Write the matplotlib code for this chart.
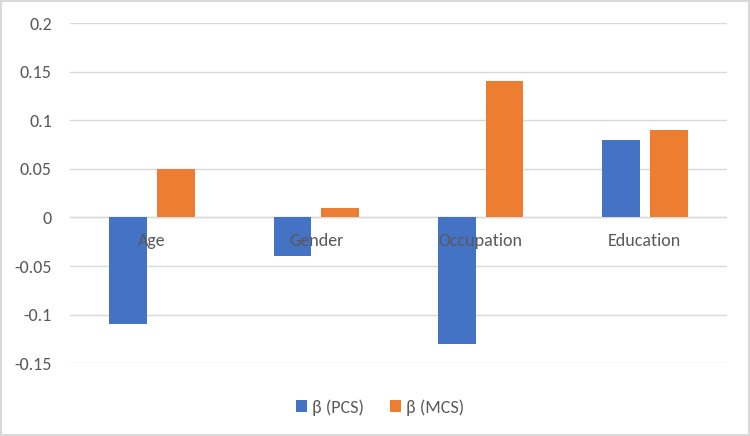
import matplotlib.pyplot as plt
import numpy as np

categories = ["Age", "Gender", "Occupation", "Education"]
beta_pcs = [-0.11, -0.04, -0.13, 0.08]
beta_mcs = [0.05, 0.01, 0.14, 0.09]
yticks = [-0.15, -0.1, -0.05, 0, 0.05, 0.1, 0.15, 0.2]
ytick_labels = ["-0.15", "-0.1", "-0.05", "0", "0.05", "0.1", "0.15", "0.2"]

plt.rcParams['font.family'] = ['Carlito', 'Liberation Sans', 'DejaVu Sans']
txt = "#595959"
fs = 13

fig = plt.figure(figsize=(7.5, 4.36), dpi=100)
ax = fig.add_axes([0.0933, 0.167, 0.876, 0.780])

x = np.arange(len(categories))
w = 0.23
ax.bar(x - 0.145, beta_pcs, w, color="#4472C4", label="β (PCS)", zorder=3)
ax.bar(x + 0.145, beta_mcs, w, color="#ED7D31", label="β (MCS)", zorder=3)

ax.set_xlim(-0.5, len(categories) - 0.5)
ax.set_ylim(-0.15, 0.2)
ax.set_yticks(yticks)
ax.set_yticklabels(ytick_labels)
ax.yaxis.grid(True, color="#d9d9d9", linewidth=1, zorder=0)
ax.tick_params(axis='y', length=0, labelsize=fs, colors=txt, pad=13)
ax.set_xticks([])
for s in ax.spines.values():
    s.set_visible(False)
ax.axhline(0, color="#d9d9d9", linewidth=1, zorder=2)

# category labels sit at the zero line, like Excel
for xi, c in zip(x, categories):
    ax.text(xi, -0.024, c, ha='center', va='center', fontsize=fs, color=txt, zorder=4)

leg = fig.legend(loc='center', bbox_to_anchor=(0.507, 0.066), ncol=2, frameon=False,
                 fontsize=fs, handlelength=0.6, handleheight=0.6, handletextpad=0.3,
                 columnspacing=1.4)
for t in leg.get_texts():
    t.set_color(txt)

fig.patches.append(plt.Rectangle((0.001, 0.002), 0.997, 0.995, transform=fig.transFigure,
                                 fill=False, edgecolor="#d9d9d9", linewidth=1.5))

fig.savefig("out.png", dpi=100)
